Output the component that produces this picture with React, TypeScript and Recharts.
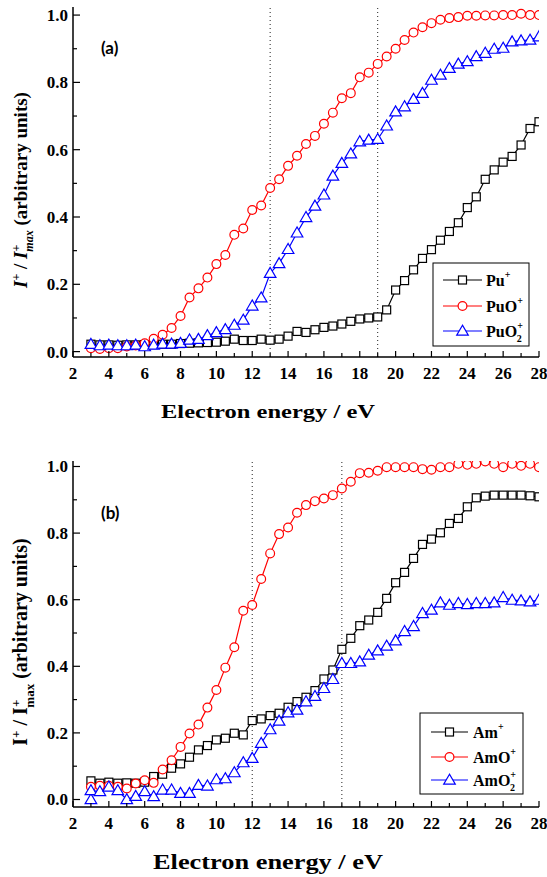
import React from 'react';
import { LineChart, Line, XAxis, YAxis, ReferenceLine } from 'recharts';

// Electron energies (eV) at which the ion yields were recorded
const ENERGY = [
  3, 3.5, 4, 4.5, 5, 5.5, 6, 6.5, 7, 7.5, 8, 8.5, 9, 9.5, 10, 10.5, 11, 11.5, 12, 12.5,
  13, 13.5, 14, 14.5, 15, 15.5, 16, 16.5, 17, 17.5, 18, 18.5, 19, 19.5, 20, 20.5, 21, 21.5, 22, 22.5,
  23, 23.5, 24, 24.5, 25, 25.5, 26, 26.5, 27, 27.5, 28,
];

// Panel (a): plutonium species, normalised intensity
const PU = [
  0.022, 0.02, 0.02, 0.019, 0.02, 0.02, 0.021, 0.021, 0.022, 0.022, 0.024, 0.025, 0.026, 0.027, 0.028, 0.031, 0.037, 0.033, 0.033, 0.037,
  0.034, 0.037, 0.046, 0.06, 0.057, 0.065, 0.072, 0.076, 0.082, 0.09, 0.097, 0.1, 0.103, 0.124, 0.183, 0.211, 0.243, 0.277, 0.303, 0.331,
  0.357, 0.383, 0.428, 0.46, 0.512, 0.54, 0.563, 0.58, 0.614, 0.663, 0.683,
];
const PUO = [
  0.01, 0.008, 0.01, 0.01, 0.015, 0.018, 0.025, 0.038, 0.05, 0.07, 0.106, 0.161, 0.188, 0.22, 0.26, 0.287, 0.347, 0.366, 0.421, 0.434,
  0.486, 0.512, 0.552, 0.582, 0.617, 0.641, 0.677, 0.71, 0.753, 0.768, 0.815, 0.829, 0.855, 0.877, 0.9, 0.926, 0.948, 0.964, 0.976, 0.986,
  0.991, 0.994, 0.998, 0.998, 0.999, 0.999, 1.0, 1.0, 1.004, 1.0, 1.0,
];
const PUO2 = [
  0.022, 0.018, 0.02, 0.018, 0.018, 0.02, 0.015, 0.02, 0.023, 0.023, 0.025, 0.035, 0.037, 0.048, 0.057, 0.066, 0.079, 0.094, 0.136, 0.16,
  0.233, 0.262, 0.304, 0.353, 0.399, 0.433, 0.466, 0.522, 0.56, 0.588, 0.624, 0.629, 0.631, 0.671, 0.713, 0.728, 0.75, 0.768, 0.807, 0.822,
  0.842, 0.855, 0.862, 0.877, 0.887, 0.899, 0.902, 0.921, 0.924, 0.926, 0.936,
];

// Panel (b): americium species
const AM = [
  0.056, 0.049, 0.052, 0.049, 0.05, 0.049, 0.052, 0.069, 0.076, 0.094, 0.107, 0.127, 0.149, 0.162, 0.179, 0.184, 0.199, 0.194, 0.237, 0.242,
  0.252, 0.259, 0.277, 0.294, 0.307, 0.327, 0.362, 0.389, 0.451, 0.484, 0.522, 0.539, 0.562, 0.604, 0.651, 0.682, 0.724, 0.766, 0.782, 0.801,
  0.829, 0.844, 0.879, 0.906, 0.911, 0.914, 0.914, 0.914, 0.914, 0.912, 0.909,
];
const AMO = [
  0.038, 0.041, 0.041, 0.038, 0.033, 0.048, 0.058, 0.05, 0.09, 0.118, 0.158, 0.198, 0.225, 0.276, 0.329, 0.396, 0.457, 0.567, 0.584, 0.662,
  0.739, 0.797, 0.817, 0.861, 0.884, 0.896, 0.904, 0.914, 0.934, 0.954, 0.98, 0.981, 0.987, 0.998, 0.998, 0.998, 0.998, 0.992, 0.99, 0.998,
  0.998, 1.008, 1.005, 1.008, 1.015, 1.008, 0.998, 1.008, 1.002, 1.008, 0.998,
];
// AmO2+ has two readings at 3 eV
const AMO2_ENERGY = [3, ...ENERGY];
const AMO2 = [
  0.0, 0.027, 0.024, 0.038, 0.027, 0.0, 0.01, 0.024, 0.009, 0.029, 0.029, 0.019, 0.019, 0.043, 0.041, 0.06, 0.063, 0.081, 0.111, 0.124, 0.169,
  0.21, 0.236, 0.261, 0.269, 0.294, 0.31, 0.334, 0.361, 0.409, 0.409, 0.414, 0.434, 0.447, 0.461, 0.477, 0.505, 0.52, 0.559, 0.569, 0.591,
  0.584, 0.589, 0.586, 0.589, 0.589, 0.591, 0.607, 0.599, 0.597, 0.594, 0.599,
];

const X_TICKS = [2, 3, 4, 5, 6, 7, 8, 9, 10, 11, 12, 13, 14, 15, 16, 17, 18, 19, 20, 21, 22, 23, 24, 25, 26, 27, 28];
const Y_TICKS = [0, 0.1, 0.2, 0.3, 0.4, 0.5, 0.6, 0.7, 0.8, 0.9, 1.0];

const SERIF = '"Liberation Serif", "Times New Roman", serif';
const BLACK = '#000000';
const RED = '#ff0000';
const BLUE = '#0000ff';

type Shape = 'square' | 'circle' | 'triangle';

interface SeriesDef {
  key: string;
  color: string;
  shape: Shape;
  x: number[];
  y: number[];
}

const Marker: React.FC<{ shape: Shape; cx: number; cy: number; color: string }> = ({ shape, cx, cy, color }) => {
  if (shape === 'circle') {
    return <circle cx={cx} cy={cy} r={4.4} fill="#fff" stroke={color} strokeWidth={1.2} />;
  }
  if (shape === 'square') {
    return <rect x={cx - 4} y={cy - 4} width={8} height={8} fill="#fff" stroke={color} strokeWidth={1.2} />;
  }
  return (
    <polygon
      points={`${cx},${cy - 5.8} ${cx - 5.8},${cy + 4.2} ${cx + 5.8},${cy + 4.2}`}
      fill="#fff"
      stroke={color}
      strokeWidth={1.2}
    />
  );
};

const tickText: React.CSSProperties = { fontFamily: SERIF, fontWeight: 'bold', fontSize: 17, fill: '#000' };

// inward ticks; labels only on the major ones
const BottomTick = (props: any) => {
  const { x, y, payload } = props;
  const major = payload.value % 2 === 0;
  return (
    <g>
      <line x1={x} x2={x} y1={y} y2={y - (major ? 6 : 4)} stroke="#000" strokeWidth={1.2} />
      {major && (
        <text x={x} y={y + 22} textAnchor="middle" style={tickText}>
          {payload.value}
        </text>
      )}
    </g>
  );
};

const TopTick = (props: any) => {
  const { x, y, payload } = props;
  const major = payload.value % 2 === 0;
  return <line x1={x} x2={x} y1={y} y2={y + (major ? 6 : 4)} stroke="#000" strokeWidth={1.2} />;
};

const LeftTick = (props: any) => {
  const { x, y, payload } = props;
  const major = Math.round(payload.value * 10) % 2 === 0;
  return (
    <g>
      <line x1={x} x2={x + (major ? 7 : 4)} y1={y} y2={y} stroke="#000" strokeWidth={1.2} />
      {major && (
        <text x={x - 5} y={y} dy="0.35em" textAnchor="end" style={tickText}>
          {payload.value.toFixed(1)}
        </text>
      )}
    </g>
  );
};

const RightTick = (props: any) => {
  const { x, y, payload } = props;
  const major = Math.round(payload.value * 10) % 2 === 0;
  return <line x1={x} x2={x - (major ? 7 : 4)} y1={y} y2={y} stroke="#000" strokeWidth={1.2} />;
};

interface PanelProps {
  top: number;
  height: number;
  marginTop: number;
  marginBottom: number;
  yDomain: [number, number];
  series: SeriesDef[];
  guides: number[];
}

const Panel: React.FC<PanelProps> = ({ top, height, marginTop, marginBottom, yDomain, series, guides }) => (
  <div style={{ position: 'absolute', left: 0, top }}>
    <LineChart width={547} height={height} margin={{ top: marginTop, right: 8, bottom: marginBottom, left: 33 }}>
      <XAxis
        xAxisId="b"
        dataKey="x"
        type="number"
        domain={[2, 28]}
        ticks={X_TICKS}
        interval={0}
        allowDataOverflow
        height={30}
        tickSize={0}
        tickMargin={0}
        tick={<BottomTick />}
        axisLine={{ stroke: '#000', strokeWidth: 1.5 }}
        tickLine={false}
      />
      <XAxis
        xAxisId="t"
        orientation="top"
        dataKey="x"
        type="number"
        domain={[2, 28]}
        ticks={X_TICKS}
        interval={0}
        allowDataOverflow
        height={0}
        tickSize={0}
        tickMargin={0}
        tick={<TopTick />}
        axisLine={{ stroke: '#000', strokeWidth: 1.5 }}
        tickLine={false}
      />
      <YAxis
        yAxisId="l"
        type="number"
        domain={yDomain}
        ticks={Y_TICKS}
        interval={0}
        allowDataOverflow
        width={40}
        tickSize={0}
        tickMargin={0}
        tick={<LeftTick />}
        axisLine={{ stroke: '#000', strokeWidth: 1.5 }}
        tickLine={false}
      />
      <YAxis
        yAxisId="r"
        orientation="right"
        type="number"
        domain={yDomain}
        ticks={Y_TICKS}
        interval={0}
        allowDataOverflow
        width={0}
        tickSize={0}
        tickMargin={0}
        tick={<RightTick />}
        axisLine={{ stroke: '#000', strokeWidth: 1.5 }}
        tickLine={false}
      />
      {guides.map((g) => (
        <ReferenceLine
          key={g}
          x={g}
          xAxisId="b"
          yAxisId="l"
          stroke="#222"
          strokeWidth={1}
          strokeDasharray="1 3"
        />
      ))}
      {series.map((s) => (
        <Line
          key={s.key}
          xAxisId="b"
          yAxisId="l"
          data={s.x.map((x, i) => ({ x, y: s.y[i] }))}
          dataKey="y"
          type="linear"
          stroke={s.color}
          strokeWidth={1.2}
          isAnimationActive={false}
          dot={(p: any) => <Marker key={`${s.key}-${p.index}`} shape={s.shape} cx={p.cx} cy={p.cy} color={s.color} />}
          activeDot={false}
        />
      ))}
    </LineChart>
  </div>
);

const PU_SERIES: SeriesDef[] = [
  { key: 'pu', color: BLACK, shape: 'square', x: ENERGY, y: PU },
  { key: 'puo', color: RED, shape: 'circle', x: ENERGY, y: PUO },
  { key: 'puo2', color: BLUE, shape: 'triangle', x: ENERGY, y: PUO2 },
];

const AM_SERIES: SeriesDef[] = [
  { key: 'am', color: BLACK, shape: 'square', x: ENERGY, y: AM },
  { key: 'amo', color: RED, shape: 'circle', x: ENERGY, y: AMO },
  { key: 'amo2', color: BLUE, shape: 'triangle', x: AMO2_ENERGY, y: AMO2 },
];

const labelText: React.CSSProperties = { fontFamily: SERIF, fontWeight: 'bold', fontSize: 19, fill: '#000' };
const legendText: React.CSSProperties = { fontFamily: SERIF, fontWeight: 'bold', fontSize: 16, fill: '#000' };

interface LegendRow {
  base: string;
  two?: boolean;
  color: string;
  shape: Shape;
}

const LegendBox: React.FC<{ x: number; y: number; w: number; h: number; rows: LegendRow[]; rowY: number[]; lineX: [number, number]; textX: number }> = ({
  x, y, w, h, rows, rowY, lineX, textX,
}) => (
  <g>
    <rect x={x} y={y} width={w} height={h} fill="#fff" stroke="#000" strokeWidth={1} />
    {rows.map((r, i) => {
      const cy = rowY[i];
      const mx = (lineX[0] + lineX[1]) / 2;
      return (
        <g key={r.base + i}>
          <line x1={lineX[0]} x2={lineX[1]} y1={cy} y2={cy} stroke={r.color} strokeWidth={1.2} />
          <Marker shape={r.shape} cx={mx} cy={cy} color={r.color} />
          <text x={textX} y={cy + 6} style={legendText}>
            {r.base}
            <tspan dy={-8} fontSize={10}>+</tspan>
            {r.two && (
              <tspan dx={-6} dy={13} fontSize={10}>2</tspan>
            )}
          </text>
        </g>
      );
    })}
  </g>
);

const App: React.FC = () => (
  <div style={{ position: 'absolute', left: 0, top: 0, width: 547, height: 877, background: '#fff' }}>
    <Panel top={0} height={440} marginTop={7} marginBottom={53} yDomain={[-0.016, 1.024]} series={PU_SERIES} guides={[13, 19]} />
    <Panel top={440} height={437} marginTop={21} marginBottom={40} yDomain={[-0.0225, 1.0165]} series={AM_SERIES} guides={[12, 17]} />
    <svg width={547} height={877} style={{ position: 'absolute', left: 0, top: 0, pointerEvents: 'none' }}>
      <text x={101} y={54} style={{ fontFamily: 'Lato, "Open Sans", sans-serif', fontWeight: 700, fontSize: 17 }}>(a)</text>
      <text x={101} y={519} style={{ fontFamily: 'Lato, "Open Sans", sans-serif', fontWeight: 700, fontSize: 17 }}>(b)</text>

      <text x={268} y={418} textAnchor="middle" textLength={214} lengthAdjust="spacingAndGlyphs" style={labelText}>
        Electron energy / eV
      </text>
      <text x={268} y={869} textAnchor="middle" textLength={230} lengthAdjust="spacingAndGlyphs" style={{ ...labelText, fontSize: 20 }}>
        Electron energy / eV
      </text>

      <text transform="translate(27,190) rotate(-90)" textAnchor="middle" style={labelText}>
        <tspan fontStyle="italic">I</tspan>
        <tspan dy={-7} fontSize={12}>+</tspan>
        <tspan dy={7}> / </tspan>
        <tspan fontStyle="italic">I</tspan>
        <tspan dy={-7} fontSize={12}>+</tspan>
        <tspan dx={-7} dy={13} fontSize={12} fontStyle="italic">max</tspan>
        <tspan dy={-6}> (arbitrary units)</tspan>
      </text>
      <text transform="translate(27,642) rotate(-90)" textAnchor="middle" style={{ ...labelText, fontSize: 20 }}>
        <tspan>I</tspan>
        <tspan dy={-7} fontSize={13}>+</tspan>
        <tspan dy={7}> / </tspan>
        <tspan>I</tspan>
        <tspan dy={-7} fontSize={13}>+</tspan>
        <tspan dx={-8} dy={14} fontSize={13}>max</tspan>
        <tspan dy={-7}> (arbitrary units)</tspan>
      </text>

      <LegendBox
        x={433}
        y={263}
        w={96}
        h={83}
        rowY={[280, 306, 331]}
        lineX={[443, 482]}
        textX={486}
        rows={[
          { base: 'Pu', color: BLACK, shape: 'square' },
          { base: 'PuO', color: RED, shape: 'circle' },
          { base: 'PuO', two: true, color: BLUE, shape: 'triangle' },
        ]}
      />
      <LegendBox
        x={420}
        y={713}
        w={103}
        h={81}
        rowY={[732, 757, 780]}
        lineX={[431, 468]}
        textX={473}
        rows={[
          { base: 'Am', color: BLACK, shape: 'square' },
          { base: 'AmO', color: RED, shape: 'circle' },
          { base: 'AmO', two: true, color: BLUE, shape: 'triangle' },
        ]}
      />
    </svg>
  </div>
);

export default App;
